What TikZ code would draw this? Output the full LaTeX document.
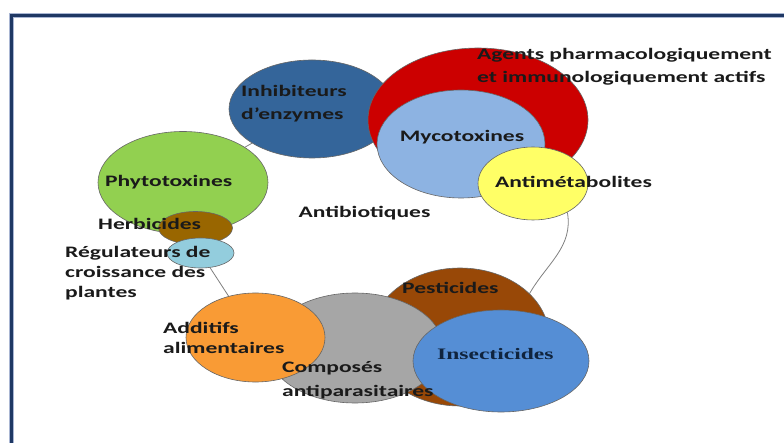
\documentclass[tikz,border=0pt]{standalone}
\usepackage{fontspec}
\setmainfont{Carlito}[FakeStretch=1.47]
\newfontfamily\serifbold{Liberation Serif}[FakeStretch=1.47]
\usepackage{tikz}
\usetikzlibrary{shapes.geometric, positioning}
\definecolor{frame_navy}{HTML}{1F3864}
\definecolor{frame_halo}{HTML}{A9B6D3}
\definecolor{inh_blue}{HTML}{34659A}
\definecolor{agent_red}{HTML}{CC0000}
\definecolor{myco_blue}{HTML}{8DB3E2}
\definecolor{anti_yellow}{HTML}{FFFF66}
\definecolor{phyto_green}{HTML}{92D050}
\definecolor{herb_brown}{HTML}{996600}
\definecolor{reg_teal}{HTML}{93CDDD}
\definecolor{pest_brown}{HTML}{984807}
\definecolor{comp_gray}{HTML}{A6A6A6}
\definecolor{add_orange}{HTML}{F99B35}
\definecolor{insect_blue}{HTML}{558ED5}
\definecolor{txt_dark}{HTML}{1A1A1A}
\definecolor{txt_navy}{HTML}{10243E}
\definecolor{link_gray}{HTML}{808080}
\tikzset{
  blob/.style={ellipse,draw=black!60,line width=0.6pt,inner sep=0pt},
  lbl/.style={inner sep=0pt,text=txt_dark,font=\fontsize{16}{20}\selectfont\bfseries},
  lbl_l/.style={lbl,anchor=west,align=left},
  link/.style={draw=link_gray,line width=0.8pt},
}
\pgfdeclarelayer{back}
\pgfsetlayers{back,main}

\begin{document}
\begin{tikzpicture}[x=1pt,y=-1pt]
	    \useasboundingbox (0,0) rectangle (784,443);
	    \clip (0,0) rectangle (784,443);
	    \begin{pgfonlayer}{back}
	    \fill[white] (0,0) rectangle (784,443);
	    \end{pgfonlayer}
	    % frame (cut at the right and bottom)
	    \draw[line width=5pt,frame_halo] (11.5,470) |- (800,15.5);
	    \draw[line width=3pt,frame_navy] (11.5,470) |- (800,15.5);
	    % upper group
	    \node[blob,fill=inh_blue,minimum width=166pt,minimum height=98pt] (inh) at (312,109) {};
	    \node[blob,fill=agent_red,minimum width=220pt,minimum height=144pt] (agents) at (478,120) {};
	    \node[blob,fill=myco_blue,minimum width=168pt,minimum height=108pt] (myco) at (461,144) {};
	    \node[blob,fill=anti_yellow,minimum width=110pt,minimum height=73pt] (anti) at (533,183.5) {};
	    % left group
	    \node[blob,fill=phyto_green,minimum width=170pt,minimum height=102pt] (phyto) at (183,182.5) {};
	    \node[blob,fill=herb_brown,minimum width=74pt,minimum height=33pt] (herb) at (195.5,228) {};
	    \node[blob,fill=reg_teal,minimum width=67pt,minimum height=30pt] (reg) at (200.5,253) {};
	    % lower group
	    \node[blob,fill=pest_brown,minimum width=178pt,minimum height=138pt] (pest) at (460,337) {};
	    \node[blob,fill=comp_gray,minimum width=176pt,minimum height=110pt] (comp) at (355,348) {};
	    \node[blob,fill=add_orange,minimum width=139pt,minimum height=89pt] (add) at (255.5,337.5) {};
	    \node[blob,fill=insect_blue,minimum width=176pt,minimum height=102pt] (insect) at (501,361) {};
	    % links
	    \begin{pgfonlayer}{back}
	    \draw[link] (inh) -- (phyto);
	    \draw[link] (reg) -- (add);
	    \draw[link] (anti.-40) to[out=-80,in=60] (pest.32);
	    \end{pgfonlayer}
	    % labels
	    \node[lbl_l] (agents-t) at (477,66.5) {Agents pharmacologiquement\\[3pt]et immunologiquement actifs};
	    \node[lbl_l] (inh-t) at (241,104) {Inhibiteurs\\[3pt]d’enzymes};
	    \node[lbl] (myco-t) at (462,137) {Mycotoxines};
	    \node[lbl_l] (anti-t) at (495,182) {Antimétabolites};
	    \node[lbl] (antibio-t) at (364.5,213) {Antibiotiques};
	    \node[lbl_l] (phyto-t) at (105,182) {Phytotoxines};
	    \node[lbl_l] (herb-t) at (98,224) {Herbicides};
	    \node[lbl_l] (reg-t) at (65,273) {Régulateurs de\\croissance des\\plantes};
	    \node[lbl_l] (pest-t) at (402,288) {Pesticides};
	    \node[lbl_l] (add-t) at (163,338) {Additifs\\alimentaires};
	    \node[lbl_l] (comp-t) at (282,380) {Composés\\[4pt]antiparasitaires};
	    \node[lbl_l,font=\fontsize{16}{20}\selectfont\serifbold\bfseries,text=txt_navy] (insect-t) at (437,354) {Insecticides};
	\end{tikzpicture}
\end{document}
